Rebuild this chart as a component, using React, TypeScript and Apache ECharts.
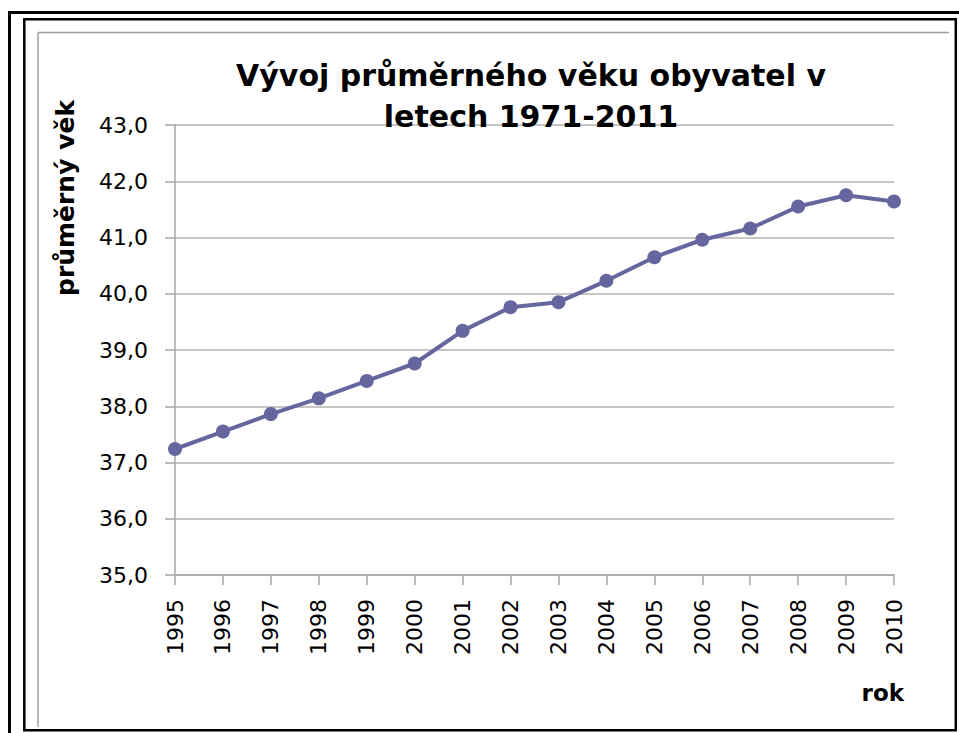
import React, { useEffect, useRef } from "react";
import * as echarts from "echarts";

const years = ["1995","1996","1997","1998","1999","2000","2001","2002","2003","2004","2005","2006","2007","2008","2009","2010"];
const avgAge = [37.24, 37.55, 37.86, 38.14, 38.45, 38.76, 39.34, 39.76, 39.85, 40.23, 40.65, 40.96, 41.16, 41.55, 41.75, 41.64];
const titleText = "Vývoj průměrného věku obyvatel v\nletech 1971-2011";
const yName = "průměrný věk";
const xName = "rok";

export default function App() {
  const ref = useRef<HTMLDivElement>(null);
  useEffect(() => {
    if (!ref.current) return;
    const chart = echarts.init(ref.current, null, { renderer: "svg" });
    const font = "DejaVu Sans";
    chart.setOption({
      animation: false,
      backgroundColor: "#ffffff",
      title: {
        text: titleText,
        left: 526,
        top: 50,
        textAlign: "center",
        textStyle: {
          fontFamily: font,
          fontWeight: "bold",
          fontSize: 30,
          lineHeight: 41,
          color: "#000000",
        },
      },
      grid: { left: 175, top: 125, right: 65, bottom: 158, containLabel: false },
      xAxis: {
        type: "category",
        data: years,
        boundaryGap: false,
        axisLine: { lineStyle: { color: "#a6a6a6", width: 1.5 } },
        axisTick: { show: true, length: 10, lineStyle: { color: "#a6a6a6", width: 1.5 } },
        axisLabel: {
          rotate: 90,
          margin: 24,
          fontFamily: font,
          fontSize: 22,
          color: "#000000",
        },
        splitLine: { show: false },
      },
      yAxis: {
        type: "value",
        min: 35,
        max: 43,
        interval: 1,
        axisLine: { show: true, lineStyle: { color: "#a6a6a6", width: 1.5 } },
        axisTick: { show: true, length: 10, lineStyle: { color: "#a6a6a6", width: 1.5 } },
        axisLabel: {
          margin: 27,
          fontFamily: font,
          fontSize: 22,
          color: "#000000",
          formatter: (v: number) => v.toFixed(1).replace(".", ","),
        },
        splitLine: { show: true, lineStyle: { color: "#b3b3b3", width: 1.5 } },
      },
      series: [
        {
          type: "line",
          data: avgAge,
          symbol: "circle",
          symbolSize: 14,
          lineStyle: { color: "#66669e", width: 4 },
          itemStyle: { color: "#66669e" },
          z: 3,
        },
      ],
      graphic: [
        { type: "rect", shape: { x: 9.5, y: 12.5, width: 960, height: 730 }, style: { fill: "none", stroke: "#000000", lineWidth: 3 }, silent: true },
        { type: "rect", shape: { x: 24.3, y: 19.3, width: 931.5, height: 711 }, style: { fill: "none", stroke: "#000000", lineWidth: 2.5 }, silent: true },
        { type: "line", shape: { x1: 38, y1: 32.5, x2: 949, y2: 32.5 }, style: { stroke: "#a0a0a0", lineWidth: 1.5 }, silent: true },
        { type: "line", shape: { x1: 38, y1: 32.5, x2: 38, y2: 727 }, style: { stroke: "#a0a0a0", lineWidth: 1.5 }, silent: true },
        {
          type: "text",
          x: 65,
          y: 198,
          rotation: Math.PI / 2,
          style: {
            text: yName,
            fontFamily: font,
            fontWeight: "bold",
            fontSize: 25,
            fill: "#000000",
            align: "center",
            verticalAlign: "middle",
          },
          silent: true,
        },
        {
          type: "text",
          x: 904,
          y: 693,
          style: {
            text: xName,
            fontFamily: font,
            fontWeight: "bold",
            fontSize: 23,
            fill: "#000000",
            align: "right",
            verticalAlign: "middle",
          },
          silent: true,
        },
      ],
    });
    return () => chart.dispose();
  }, []);
  return <div ref={ref} style={{ position: "absolute", left: 0, top: 0, width: 959, height: 733 }} />;
}
